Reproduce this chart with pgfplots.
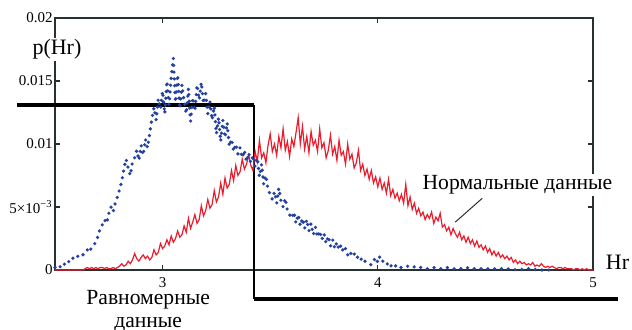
\documentclass[border=0pt]{standalone}
\usepackage{fontspec}
\setmainfont{Liberation Serif}
\newfontfamily\tms{Liberation Serif}
\usepackage{pgfplots}
\usepackage{pgfplotstable}
\pgfplotsset{compat=1.18}
\definecolor{rd}{RGB}{236,28,44}
\definecolor{bl}{RGB}{38,66,160}
\definecolor{ax}{RGB}{40,48,48}

\pgfplotstableread{
x y
2.50 0
2.52 0
2.54 0
2.56 0
2.58 0
2.60 0
2.62 0
2.63 0
2.64 0.0001
2.65 0.0002
2.66 0.0001
2.67 0.0002
2.68 0.0001
2.69 0.0002
2.70 0.0001
2.71 0.0002
2.72 0.0002
2.73 0.0001
2.74 0.0002
2.75 0.0001
2.76 0.0001
2.77 0.0002
2.78 0.0001
2.79 0.0002
2.80 0.0003
2.81 0.0005
2.82 0.0003
2.83 0.0004
2.84 0.0007
2.85 0.0005
2.86 0.0008
2.87 0.0013
2.88 0.0009
2.89 0.0007
2.90 0.0010
2.91 0.0012
2.92 0.0009
2.93 0.0011
2.94 0.0008
2.95 0.0010
2.96 0.0016
2.97 0.0012
2.98 0.0014
2.99 0.0021
3.00 0.0017
3.01 0.0019
3.02 0.0024
3.03 0.0020
3.04 0.0027
3.05 0.0022
3.06 0.0025
3.07 0.0031
3.08 0.0026
3.09 0.0028
3.10 0.0035
3.11 0.0030
3.12 0.0041
3.13 0.0033
3.14 0.0038
3.15 0.0044
3.16 0.0037
3.17 0.0040
3.18 0.0051
3.19 0.0043
3.20 0.0047
3.21 0.0056
3.22 0.0049
3.23 0.0052
3.24 0.0063
3.25 0.0054
3.26 0.0058
3.27 0.0069
3.28 0.0060
3.29 0.0073
3.30 0.0065
3.31 0.0068
3.32 0.0079
3.33 0.0071
3.34 0.0083
3.35 0.0075
3.36 0.0078
3.37 0.0088
3.38 0.0080
3.39 0.0084
3.40 0.0091
3.41 0.0083
3.42 0.0079
3.43 0.0094
3.44 0.0086
3.45 0.0103
3.46 0.0089
3.47 0.0093
3.48 0.0085
3.49 0.0099
3.50 0.0108
3.51 0.0094
3.52 0.0100
3.53 0.0091
3.54 0.0106
3.55 0.0097
3.56 0.0112
3.57 0.0095
3.58 0.0102
3.59 0.0090
3.60 0.0104
3.61 0.0098
3.62 0.0109
3.63 0.0121
3.64 0.0100
3.65 0.0114
3.66 0.0096
3.67 0.0106
3.68 0.0093
3.69 0.0110
3.70 0.0099
3.71 0.0103
3.72 0.0094
3.73 0.0112
3.74 0.0097
3.75 0.0101
3.76 0.0089
3.77 0.0095
3.78 0.0107
3.79 0.0092
3.80 0.0098
3.81 0.0087
3.82 0.0103
3.83 0.0091
3.84 0.0094
3.85 0.0084
3.86 0.0100
3.87 0.0088
3.88 0.0092
3.89 0.0081
3.90 0.0085
3.91 0.0095
3.92 0.0079
3.93 0.0084
3.94 0.0075
3.95 0.0080
3.96 0.0072
3.97 0.0079
3.98 0.0069
3.99 0.0074
4.00 0.0066
4.01 0.0073
4.02 0.0064
4.03 0.0069
4.04 0.0061
4.05 0.0072
4.06 0.0059
4.07 0.0064
4.08 0.0057
4.09 0.0061
4.10 0.0055
4.11 0.0060
4.12 0.0053
4.13 0.0068
4.14 0.0051
4.15 0.0058
4.16 0.0048
4.17 0.0053
4.18 0.0045
4.19 0.0049
4.20 0.0043
4.21 0.0046
4.22 0.0040
4.23 0.0044
4.24 0.0041
4.25 0.0046
4.26 0.0037
4.27 0.0042
4.28 0.0039
4.29 0.0045
4.30 0.0034
4.31 0.0036
4.32 0.0031
4.33 0.0034
4.34 0.0028
4.35 0.0033
4.36 0.0029
4.37 0.0026
4.38 0.0030
4.39 0.0024
4.40 0.0027
4.41 0.0022
4.42 0.0026
4.43 0.0021
4.44 0.0024
4.45 0.0019
4.46 0.0023
4.47 0.0018
4.48 0.0020
4.49 0.0016
4.50 0.0019
4.51 0.0014
4.52 0.0017
4.53 0.0012
4.54 0.0015
4.55 0.0011
4.56 0.0014
4.57 0.0010
4.58 0.0012
4.59 0.0009
4.60 0.0011
4.61 0.0008
4.62 0.0010
4.63 0.0006
4.64 0.0008
4.65 0.0005
4.66 0.0007
4.67 0.0005
4.68 0.0006
4.69 0.0004
4.70 0.0005
4.71 0.0004
4.72 0.0006
4.73 0.0003
4.74 0.0004
4.75 0.0003
4.76 0.0005
4.77 0.0003
4.78 0.0002
4.79 0.0003
4.80 0.0002
4.81 0.0003
4.82 0.0002
4.83 0.0001
4.84 0.0002
4.85 0.0002
4.86 0.0001
4.87 0.0002
4.88 0.0001
4.89 0.0001
4.90 0.0001
4.91 0
4.92 0.0001
4.93 0.0001
4.94 0
4.95 0.0001
4.96 0
4.97 0.0001
4.98 0
5.00 0
}\normaldata

\pgfplotstableread{
x y
2.50 0.0002
2.51 0.0001
2.52 0.0003
2.53 0.0002
2.54 0.0005
2.55 0.0004
2.56 0.0007
2.57 0.0006
2.58 0.0009
2.59 0.0010
2.60 0.0009
2.61 0.0012
2.62 0.0013
2.63 0.0012
2.64 0.0015
2.65 0.0016
2.66 0.0014
2.67 0.0018
2.68 0.0020
2.69 0.0022
2.70 0.0027
2.71 0.0033
2.72 0.0036
2.73 0.0040
2.74 0.0037
2.75 0.0045
2.76 0.0050
2.77 0.0046
2.78 0.0053
2.79 0.0058
2.80 0.0064
2.81 0.0070
2.82 0.0080
2.83 0.0088
2.84 0.0081
2.85 0.0075
2.86 0.0086
2.87 0.0089
2.88 0.0095
2.89 0.0087
2.90 0.0099
2.91 0.0091
2.92 0.0104
2.93 0.0097
2.94 0.0108
2.95 0.0120
2.96 0.0129
2.97 0.0119
2.98 0.0136
2.99 0.0128
3.00 0.0142
3.01 0.0124
3.02 0.0150
3.03 0.0131
3.04 0.0153
3.05 0.0168
3.06 0.0133
3.07 0.0155
3.08 0.0128
3.09 0.0147
3.10 0.0134
3.11 0.0124
3.12 0.0144
3.13 0.0118
3.14 0.0137
3.15 0.0126
3.16 0.0147
3.17 0.0135
3.18 0.0149
3.19 0.0132
3.20 0.0140
3.21 0.0124
3.22 0.0134
3.23 0.0119
3.24 0.0130
3.25 0.0108
3.26 0.0121
3.27 0.0102
3.28 0.0119
3.29 0.0105
3.30 0.0117
3.31 0.0098
3.32 0.0104
3.33 0.0094
3.34 0.0100
3.35 0.0092
3.36 0.0097
3.37 0.0089
3.38 0.0095
3.39 0.0086
3.40 0.0093
3.41 0.0085
3.42 0.0091
3.43 0.0082
3.44 0.0089
3.45 0.0074
3.46 0.0084
3.47 0.0068
3.48 0.0075
3.49 0.0064
3.50 0.0060
3.51 0.0056
3.52 0.0062
3.53 0.0053
3.54 0.0065
3.55 0.0055
3.56 0.0050
3.57 0.0057
3.58 0.0047
3.59 0.0044
3.60 0.0041
3.61 0.0046
3.62 0.0037
3.63 0.0044
3.64 0.0035
3.65 0.0041
3.66 0.0033
3.67 0.0040
3.68 0.0031
3.69 0.0037
3.70 0.0028
3.71 0.0034
3.72 0.0026
3.73 0.0031
3.74 0.0024
3.75 0.0029
3.76 0.0021
3.77 0.0027
3.78 0.0019
3.79 0.0024
3.80 0.0017
3.81 0.0022
3.82 0.0016
3.83 0.0020
3.84 0.0014
3.85 0.0017
3.86 0.0012
3.87 0.0015
3.88 0.0011
3.89 0.0013
3.90 0.0009
3.91 0.0011
3.92 0.0008
3.93 0.0010
3.94 0.0007
3.95 0.0006
3.96 0.0005
3.97 0.0004
3.98 0.0007
3.99 0.0010
4.00 0.0006
4.01 0.0011
4.02 0.0008
4.03 0.0005
4.04 0.0004
4.05 0.0006
4.06 0.0003
4.07 0.0005
4.08 0.0003
4.09 0.0004
4.10 0.0002
4.12 0.0002
4.14 0.0003
4.16 0.0002
4.18 0.0003
4.20 0.0002
4.23 0.0001
4.26 0.0002
4.29 0.0001
4.32 0.0002
4.35 0.0001
4.38 0.0001
4.41 0.0002
4.44 0.0001
4.47 0.0001
4.50 0.0001
4.55 0.0001
4.60 0.0001
4.65 0
4.70 0.0001
4.75 0
4.80 0
}\uniformdata

\begin{document}
\begin{tikzpicture}[font=\tms]
\begin{axis}[
  scale only axis,
  width=269pt, height=126pt,
  xmin=2.5, xmax=5, ymin=0, ymax=0.02,
  clip=false,
  axis line style={ax, line width=0.6pt},
  tick style={ax, line width=0.6pt},
  tick align=inside,
  major tick length=2.5pt,
  xtick={3,4,5}, xticklabels={3,4,5},
  ytick={0,0.005,0.01,0.015,0.02},
  yticklabels={0,{5×10\textsuperscript{−3}},0.01,0.015,0.02},
  scaled y ticks=false,
  ticklabel style={font=\tms\fontsize{7.5}{8}\selectfont},
  yticklabel style={inner sep=1pt},
  xticklabel style={inner sep=2pt, yshift=-1.5pt},
]
\addplot[black, line width=1.6pt, forget plot] coordinates {(2.3233,0.0131) (3.4256,0.0131)};
\addplot[black, line width=1pt, forget plot] coordinates {(3.4256,0.0131) (3.4256,-0.0023)};
\addplot[black, line width=1.6pt, forget plot] coordinates {(3.4256,-0.0023) (5.114,-0.0023)};
\addplot[rd, line width=0.6pt] table[x=x,y=y] {\normaldata};
\addplot[bl, line width=1.8pt, line cap=round, dash pattern=on 0pt off 3.4pt] table[x=x,y=y] {\uniformdata};
\coordinate (O) at (rel axis cs:0,0);
\coordinate (T) at (rel axis cs:1,1);
\coordinate (plab) at (axis cs:2.509,0.0175);
\coordinate (hrlab) at (axis cs:5.114,0.00063);
\coordinate (nlab) at (axis cs:4.649,0.00675);
\coordinate (na) at (axis cs:4.486,0.0057);
\coordinate (nb) at (axis cs:4.360,0.0038);
\coordinate (ulab) at (axis cs:2.933,-0.00325);
\end{axis}
\draw[ax, line width=0.5pt] (na) -- (nb);
\node[fill=white, inner sep=1pt, font=\tms\fontsize{11}{12}\selectfont] at (plab) {p(Hr)};
\node[inner sep=0pt, font=\tms\fontsize{11}{12}\selectfont] at (hrlab) {Hr};
\node[fill=white, inner sep=1pt, font=\tms\fontsize{10.8}{12}\selectfont] at (nlab) {Нормальные данные};
\node[align=center, inner sep=0pt, font=\tms\fontsize{10.8}{11.3}\selectfont] at (ulab) {Равномерные\\данные};
\pgfresetboundingbox
\path[use as bounding box] ([shift={(-27.5pt,-30pt)}]O) rectangle ([shift={(19.5pt,9pt)}]T);
\end{tikzpicture}
\end{document}
